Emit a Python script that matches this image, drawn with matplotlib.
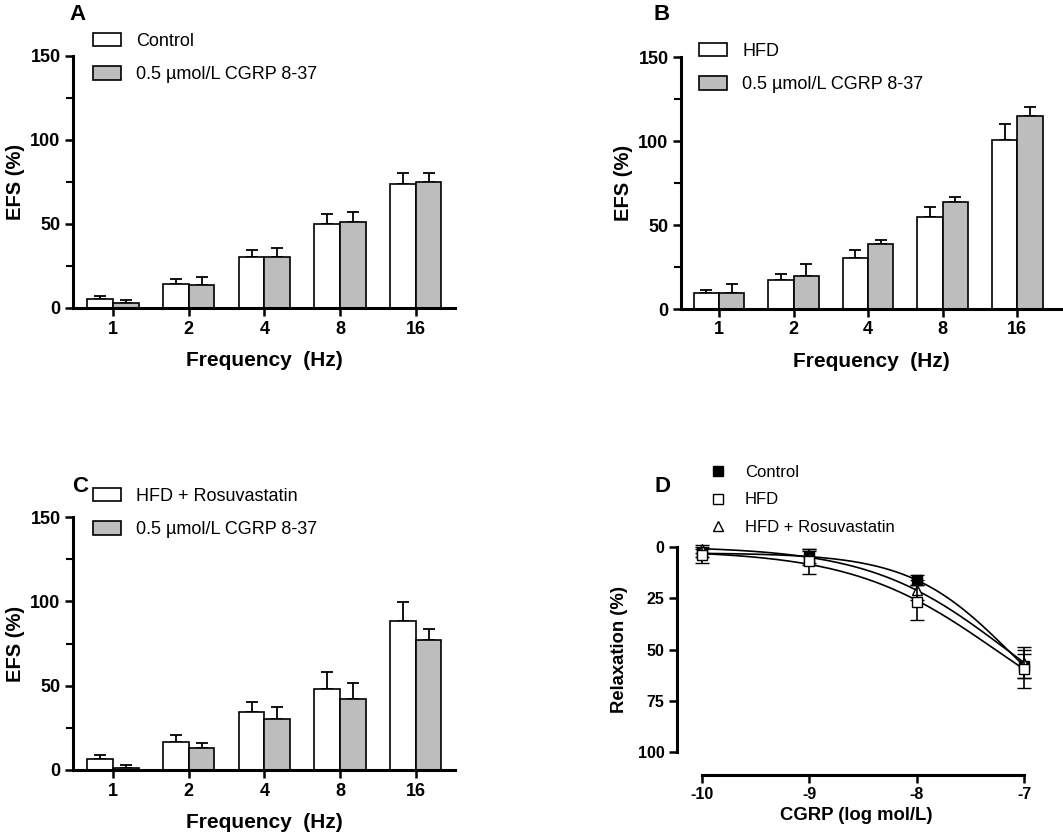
import numpy as np
import matplotlib.pyplot as plt
from matplotlib.patches import Patch
from matplotlib.lines import Line2D
from matplotlib.ticker import MultipleLocator

plt.rcParams['font.family'] = ['Liberation Sans', 'DejaVu Sans']
plt.rcParams['axes.unicode_minus'] = False

# ---- data ----
freqs = ['1', '2', '4', '8', '16']

a_ctrl = [5.6, 14.1, 30.2, 50.0, 74.0]
a_ctrl_err = [1.5, 3.4, 4.3, 5.8, 6.4]
a_cgrp = [3.2, 13.7, 30.2, 51.0, 75.0]
a_cgrp_err = [1.4, 4.6, 5.3, 6.1, 5.4]

b_hfd = [9.5, 17.4, 30.3, 55.0, 100.5]
b_hfd_err = [1.6, 3.4, 4.9, 5.8, 9.7]
b_cgrp = [9.5, 19.8, 38.8, 63.7, 114.8]
b_cgrp_err = [5.4, 7.1, 2.2, 3.0, 5.7]

c_rosu = [6.7, 16.8, 34.6, 47.9, 88.3]
c_rosu_err = [2.2, 4.0, 5.5, 10.1, 11.1]
c_cgrp = [1.2, 12.9, 30.0, 42.0, 77.2]
c_cgrp_err = [1.6, 2.9, 7.6, 9.8, 6.5]

log_conc = [-10, -9, -8, -7]
d_ctrl = [3.0, 5.0, 16.0, 58.0]
d_ctrl_err = [2.0, 3.0, 2.5, 6.0]
d_hfd = [4.0, 7.0, 27.0, 59.5]
d_hfd_err = [4.0, 6.0, 8.5, 9.5]
d_rosu = [1.0, 5.0, 21.0, 56.5]
d_rosu_err = [2.0, 4.0, 5.0, 7.5]

GREY = '#bdbdbd'
W, H = 1063, 832


def fig_rect(left, top, right, bottom):
    return [left / W, 1 - bottom / H, (right - left) / W, (bottom - top) / H]


def bar_panel(fig, rect, xlim, first, first_err, second, second_err, labels, leg_xy):
    ax = fig.add_axes(rect)
    x = np.arange(len(freqs))
    bw = 0.34
    for vals, errs, off, col in [(first, first_err, -bw / 2, 'white'),
                                 (second, second_err, bw / 2, GREY)]:
        ax.bar(x + off, vals, bw, color=col, edgecolor='black', linewidth=1.2, zorder=2)
        ax.errorbar(x + off, vals, yerr=[np.zeros(len(errs)), errs], fmt='none',
                    ecolor='black', elinewidth=1.3, capsize=4.5, capthick=1.3, zorder=1)
    ax.set_xlim(*xlim)
    ax.set_ylim(0, 150)
    ax.set_xticks(x)
    ax.set_xticklabels(freqs)
    ax.set_yticks([0, 50, 100, 150])
    ax.yaxis.set_minor_locator(MultipleLocator(25))
    for s in ['top', 'right']:
        ax.spines[s].set_visible(False)
    for s in ['left', 'bottom']:
        ax.spines[s].set_linewidth(2.2)
    ax.tick_params(axis='both', which='major', length=6, width=1.8, labelsize=13, pad=3)
    ax.tick_params(axis='y', which='minor', length=5, width=1.5)
    for t in ax.get_xticklabels() + ax.get_yticklabels():
        t.set_fontweight('bold')
    ax.set_xlabel('Frequency  (Hz)', fontsize=15, fontweight='bold', labelpad=10)
    ax.set_ylabel('EFS (%)', fontsize=14.5, fontweight='bold', labelpad=4)
    handles = [Patch(facecolor='white', edgecolor='black', linewidth=1.2),
               Patch(facecolor=GREY, edgecolor='black', linewidth=1.2)]
    ax.legend(handles, labels, loc='upper left',
              bbox_to_anchor=(leg_xy[0] / W, 1 - leg_xy[1] / H),
              bbox_transform=fig.transFigure, frameon=False, fontsize=13,
              handlelength=1.55, handleheight=0.75, handletextpad=0.85,
              labelspacing=0.9, borderpad=0, borderaxespad=0)
    return ax


def hill_fit(x, y, top=100.0):
    # least-squares fit of a sigmoid (fixed top) by grid search
    x = np.asarray(x, float)
    y = np.asarray(y, float)
    best = None
    for ec in np.linspace(-8.5, -6.0, 251):
        for h in np.linspace(0.3, 2.5, 111):
            s = 1.0 / (1.0 + 10 ** ((ec - x) * h))
            b = np.sum((y - top * s) * (1 - s)) / np.sum((1 - s) ** 2)
            r = np.sum((b + (top - b) * s - y) ** 2)
            if best is None or r < best[0]:
                best = (r, ec, h, b)
    _, ec, h, b = best
    xs = np.linspace(x.min(), x.max(), 200)
    return xs, b + (top - b) / (1.0 + 10 ** ((ec - xs) * h))


fig = plt.figure(figsize=(W / 100, H / 100), dpi=100)

bar_panel(fig, fig_rect(73, 56, 455, 308), (-0.53, 4.52), a_ctrl, a_ctrl_err, a_cgrp, a_cgrp_err,
          ['Control', '0.5 \u00b5mol/L CGRP 8-37'], (93, 33))
bar_panel(fig, fig_rect(681, 57, 1062, 309), (-0.51, 4.6), b_hfd, b_hfd_err, b_cgrp, b_cgrp_err,
          ['HFD', '0.5 \u00b5mol/L CGRP 8-37'], (699, 43))
bar_panel(fig, fig_rect(73, 517, 455, 770), (-0.53, 4.52), c_rosu, c_rosu_err, c_cgrp, c_cgrp_err,
          ['HFD + Rosuvastatin', '0.5 \u00b5mol/L CGRP 8-37'], (93, 488))

# ---- panel D ----
axd = fig.add_axes(fig_rect(677, 547, 1035, 752))
for vals, errs, mfc, mk, z in [(d_ctrl, d_ctrl_err, 'black', 's', 2),
                               (d_rosu, d_rosu_err, 'white', '^', 3),
                               (d_hfd, d_hfd_err, 'white', 's', 4)]:
    xs, ys = hill_fit(log_conc, vals)
    axd.plot(xs, ys, color='black', linewidth=1.2, zorder=1)
    axd.errorbar(log_conc, vals, yerr=errs, fmt=mk, mfc=mfc, mec='black', ms=7, mew=1.0,
                 ecolor='black', elinewidth=1.2, capsize=5, capthick=1.2, clip_on=False, zorder=z)
axd.set_xlim(-10.233, -6.9)
axd.set_ylim(100, 0)
axd.set_xticks(log_conc)
axd.set_yticks([0, 25, 50, 75, 100])
for s in ['top', 'right']:
    axd.spines[s].set_visible(False)
for s in ['left', 'bottom']:
    axd.spines[s].set_linewidth(2.2)
axd.spines['left'].set_bounds(0, 100)
axd.spines['bottom'].set_bounds(-10, -7)
axd.spines['bottom'].set_position(('outward', 16.5))
axd.tick_params(axis='both', length=6, width=1.8, labelsize=11.5, pad=3)
for t in axd.get_xticklabels() + axd.get_yticklabels():
    t.set_fontweight('bold')
axd.set_xlabel('CGRP (log mol/L)', fontsize=13.3, fontweight='bold', labelpad=3)
axd.set_ylabel('Relaxation (%)', fontsize=13.3, fontweight='bold', labelpad=7)
d_handles = [Line2D([], [], ls='none', marker='s', mfc='black', mec='black', ms=7),
             Line2D([], [], ls='none', marker='s', mfc='white', mec='black', ms=7),
             Line2D([], [], ls='none', marker='^', mfc='white', mec='black', ms=7)]
axd.legend(d_handles, ['Control', 'HFD', 'HFD + Rosuvastatin'], loc='upper left',
           bbox_to_anchor=(710 / W, 1 - 465 / H), bbox_transform=fig.transFigure,
           frameon=False, fontsize=12, handlelength=1.0, handletextpad=1.1,
           labelspacing=0.75, borderpad=0, borderaxespad=0)

# ---- panel letters ----
for letter, px, py in [('A', 78, 14), ('B', 662, 14), ('C', 80, 487), ('D', 663, 487)]:
    fig.text(px / W, 1 - py / H, letter, fontsize=16, fontweight='bold', ha='center', va='center')

fig.savefig('out.png', dpi=100)
